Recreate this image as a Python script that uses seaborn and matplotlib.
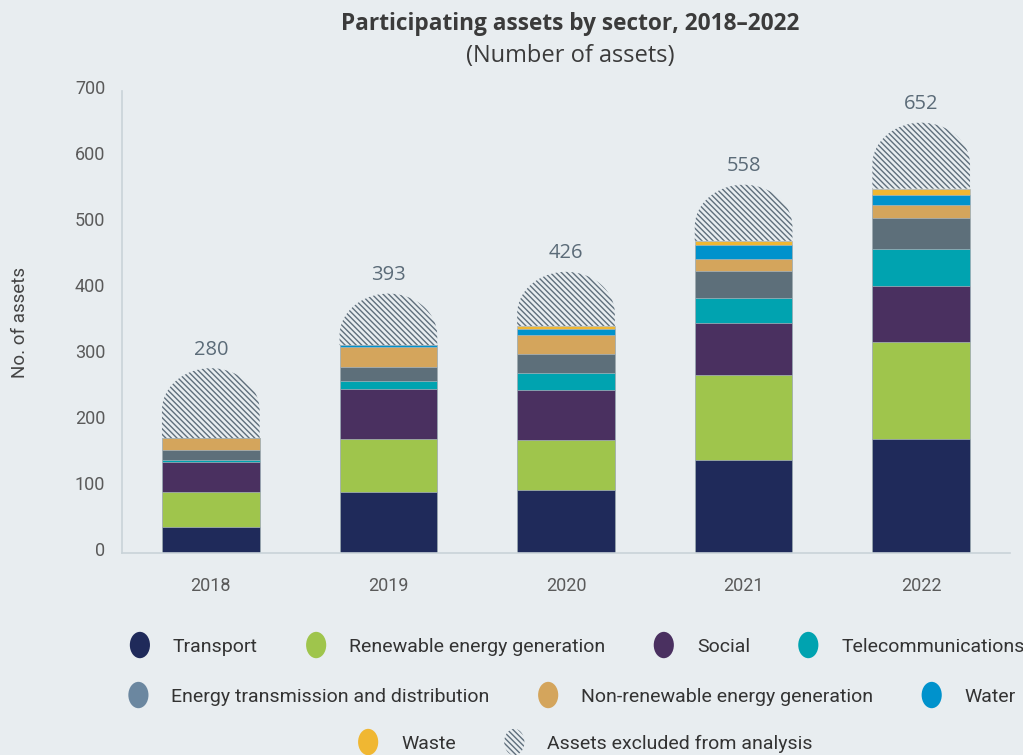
import numpy as np
import pandas as pd
import matplotlib
matplotlib.use("Agg")
import matplotlib.pyplot as plt
import matplotlib.transforms as mtransforms
import seaborn as sns
from matplotlib.patches import Ellipse, Patch, PathPatch
from matplotlib.path import Path
from matplotlib.legend_handler import HandlerPatch

# ---------------- data ----------------
years = ["2018", "2019", "2020", "2021", "2022"]
totals = [280, 393, 426, 558, 652]
transport = [40, 92, 96, 141, 172]
renewable = [52, 80, 75, 128, 147]
social = [46, 76, 76, 80, 86]
telecom = [3, 13, 25, 37, 55]
transmission = [15, 21, 30, 42, 48]
nonrenewable = [18, 30, 28, 18, 19]
water = [0, 3, 10, 20, 16]
waste = [0, 0, 4, 7, 9]

sectors = ["Transport", "Renewable energy generation", "Social", "Telecommunications",
           "Energy transmission and distribution", "Non-renewable energy generation",
           "Water", "Waste"]
series = [transport, renewable, social, telecom, transmission, nonrenewable, water, waste]
excluded_label = "Assets excluded from analysis"

bar_colors = ["#1f2a5a", "#9fc54c", "#4a3060", "#00a3b0", "#5d6f7a", "#d4a55c", "#0092cc", "#f0b732"]
legend_colors = ["#1f2a5a", "#9fc54c", "#4a3060", "#00a3b0", "#6b87a0", "#d4a55c", "#0092cc", "#f0b732"]
bg = "#e8edf0"
hatch_col = "#5f6f7c"
HATCH = "\\\\\\\\\\\\"

# ---------------- style ----------------
sns.set_theme(style="white")
plt.rcParams["font.family"] = ["Roboto", "DejaVu Sans"]
plt.rcParams["hatch.linewidth"] = 1.0

fig = plt.figure(figsize=(10.23, 7.55), dpi=100, facecolor=bg)
ax = fig.add_axes([122 / 1023, 1 - 553 / 755, 888 / 1023, 462 / 755])
ax.set_facecolor(bg)

df = pd.DataFrame({"Year": years, **dict(zip(sectors, series))})
cum = df[sectors].cumsum(axis=1)

# stacked bars: overlay cumulative totals, tallest first
for name, col in reversed(list(zip(sectors, bar_colors))):
    sns.barplot(x=df["Year"], y=cum[name], color=col, width=0.55, saturation=1,
                edgecolor="#aab6be", linewidth=0.5, ax=ax)

ax.set_xlim(-0.5, 4.5)
ax.set_ylim(0, 700)

# excluded assets: hatched dome from top of sectors to total
base = cum[sectors[-1]].values
px0 = ax.transData.transform((0, 0))
px1 = ax.transData.transform((1, 100))
px_per_y = (px1[1] - px0[1]) / 100.0
half_w = 0.275
ry = 42 / px_per_y
theta = np.linspace(np.pi, 0, 60)
for i, (b, t) in enumerate(zip(base, totals)):
    cy = t - ry
    xs = np.concatenate([[i - half_w], i + half_w * np.cos(theta), [i + half_w, i - half_w]])
    ys = np.concatenate([[b], cy + ry * np.sin(theta), [b, b]])
    verts = np.column_stack([xs, ys])
    codes = [Path.MOVETO] + [Path.LINETO] * (len(verts) - 2) + [Path.CLOSEPOLY]
    ax.add_patch(PathPatch(Path(verts, codes), facecolor="none", edgecolor=hatch_col,
                           linewidth=0, hatch=HATCH))
    ax.text(i, t + 28, str(t), ha="center", va="center", fontsize=14.5,
            color="#5b6b78", family=["Open Sans", "DejaVu Sans"])

# axes cosmetics
ax.set_xlabel("")
ax.set_ylabel("")
fig.text(20 / 1023, 1 - 322 / 755, "No. of assets", rotation=90, ha="center", va="center",
         fontsize=13.5, color="#444444")
ax.set_yticks(range(0, 701, 100))
ax.tick_params(axis="both", length=0, labelsize=13, labelcolor="#5a5a5a")
ax.tick_params(axis="y", pad=12)
ax.tick_params(axis="x", pad=17)
shift = mtransforms.ScaledTranslation(0, 3 / 72, fig.dpi_scale_trans)
for lab in ax.get_yticklabels():
    lab.set_transform(lab.get_transform() + shift)
for s in ["top", "right"]:
    ax.spines[s].set_visible(False)
for s in ["left", "bottom"]:
    ax.spines[s].set_color("#c9d3d9")
    ax.spines[s].set_linewidth(1.2)

# titles
fig.text(0.557, 1 - 24 / 755, "Participating assets by sector, 2018\u20132022", ha="center",
         va="center", fontsize=16.3, weight="bold", color="#3b3b3b",
         family=["Open Sans", "DejaVu Sans"])
fig.text(0.557, 1 - 56 / 755, "(Number of assets)", ha="center", va="center", fontsize=17,
         color="#3b3b3b", family=["Open Sans", "DejaVu Sans"])

# legend with oval handles
def oval(legend, orig_handle, xdescent, ydescent, width, height, fontsize):
    return Ellipse((-xdescent + width / 2, -ydescent + height / 2), width=14.5, height=19)

handles = [Patch(facecolor=c, edgecolor="none", label=n) for n, c in zip(sectors, legend_colors)]
handles.append(Patch(facecolor="none", edgecolor=hatch_col, linewidth=0, hatch=HATCH,
                     label=excluded_label))

rows = [(handles[0:4], 4, 0.5640, 1 - 646 / 755),
        (handles[4:7], 3, 0.559, 1 - 696 / 755),
        (handles[7:9], 2, 0.572, 1 - 743 / 755)]
for hs, nc, xc, yc in rows:
    leg = fig.legend(handles=hs, ncol=nc, loc="center", bbox_to_anchor=(xc, yc),
                     frameon=False, fontsize=14, handlelength=1.1, handleheight=1.0,
                     handletextpad=1.15, columnspacing=2.45, borderpad=0, borderaxespad=0,
                     handler_map={Patch: HandlerPatch(patch_func=oval)})
    for txt in leg.get_texts():
        txt.set_color("#333333")

fig.savefig("out.png", dpi=100, facecolor=bg)
